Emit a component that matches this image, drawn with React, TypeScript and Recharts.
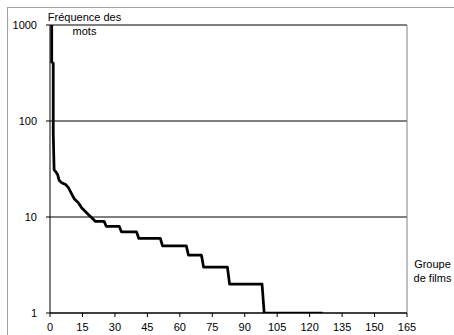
import { CartesianGrid, Line, LineChart, ReferenceLine, XAxis, YAxis } from "recharts";

// points (step plateaus given by their two ends)
const groupes = [
	0.8, 0.8, 1.5, 1.5, 1.9, 2.5, 3.5, 4.2, 5.4, 7.2, 8.5, 9.7, 11.2, 13.1, 14.6, 16.2, 17.7, 19.3, 21, 25, 26, 32, 33,
	40, 41, 51, 52, 63, 64, 70, 71, 82, 83, 98, 99, 126,
];
const frequences = [
	3000, 410, 400, 75, 31, 30, 27.8, 24.2, 22.8, 21.8, 20.2, 17.9, 15.5, 14.1, 12.5, 11.5, 10.6, 9.8, 9, 9, 8, 8, 7, 7,
	6, 6, 5, 5, 4, 4, 3, 3, 2, 2, 1, 1,
];
const xTicks = [0, 15, 30, 45, 60, 75, 90, 105, 120, 135, 150, 165];
const yTicks = [1, 10, 100, 1000];

const data = groupes.map((g, i) => ({ groupe: g, frequence: frequences[i] }));

const font = "'Liberation Sans', Arial, sans-serif";
const tickStyle = { fontSize: 11, fill: "#000", fontFamily: font };

const App = () => {
	return (
		<div style={{ position: "absolute", left: 0, top: 0, width: 454, height: 335, background: "#fff" }}>
			<div
				style={{
					position: "absolute",
					left: 7,
					top: 7,
					width: 460,
					height: 340,
					borderLeft: "1px solid #a0a0a0",
					borderTop: "1px solid #a0a0a0",
				}}
			/>
			<LineChart
				width={454}
				height={335}
				data={data}
				margin={{ top: 25, right: 47, left: 0, bottom: 0 }}
				style={{ position: "absolute", left: 0, top: 0 }}
			>
				<CartesianGrid vertical={false} stroke="#000" />
				<XAxis
					type="number"
					dataKey="groupe"
					domain={[0, 165]}
					ticks={xTicks}
					interval={0}
					height={22}
					tickSize={4}
					tickMargin={6}
					stroke="#000"
					tick={tickStyle}
				/>
				<YAxis
					scale="log"
					domain={[1, 1000]}
					ticks={yTicks}
					allowDataOverflow
					width={50}
					tickSize={4}
					tickMargin={9}
					stroke="#000"
					tick={tickStyle}
				/>
				<ReferenceLine x={165} stroke="#808080" />
				<Line
					type="linear"
					dataKey="frequence"
					stroke="#000"
					strokeWidth={2.75}
					strokeLinejoin="round"
					dot={false}
					isAnimationActive={false}
				/>
				<text x={84.5} y={21} textAnchor="middle" style={tickStyle}>
					Fréquence des
				</text>
				<text x={84.5} y={35} textAnchor="middle" style={tickStyle}>
					mots
				</text>
				<text x={432.5} y={268} textAnchor="middle" style={tickStyle}>
					Groupe
				</text>
				<text x={432.5} y={282} textAnchor="middle" style={tickStyle}>
					de films
				</text>
			</LineChart>
		</div>
	);
};

export default App;
